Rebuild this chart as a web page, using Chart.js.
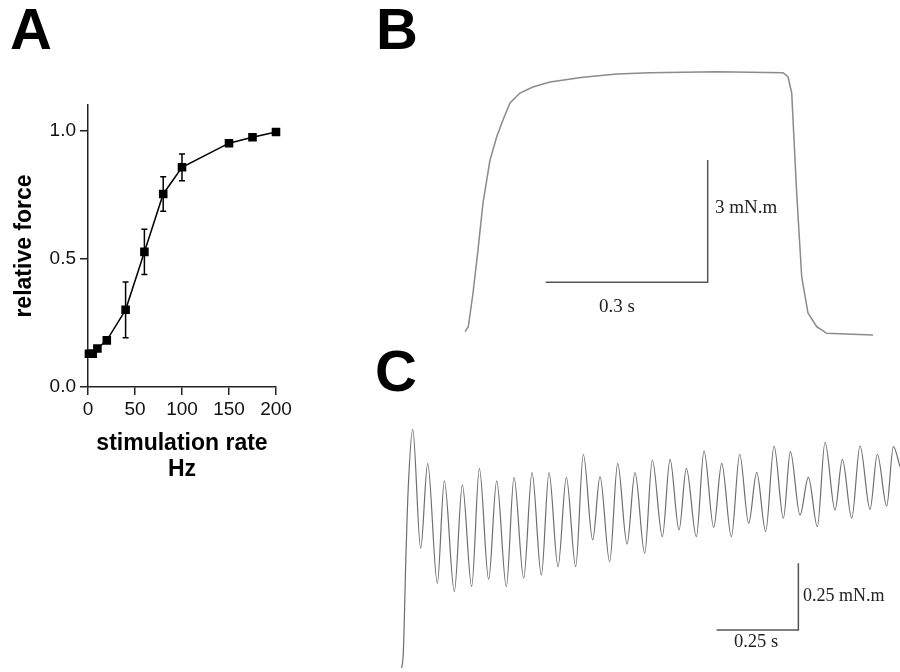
<!DOCTYPE html>
<html>
<head>
<meta charset="utf-8">
<script src="https://cdn.jsdelivr.net/npm/chart.js@4.4.1/dist/chart.umd.min.js"></script>
<style>
  body { margin: 0; background: #fff; }
  #page { position: relative; width: 900px; height: 672px; overflow: hidden; }
  canvas { position: absolute; }
  .lbl { position: absolute; font-family: 'Liberation Sans', Arial, sans-serif; font-weight: bold; font-size: 58px; line-height: 58px; color: #000; }
  .bar { position: absolute; font-family: 'Liberation Serif', 'Times New Roman', serif; color: #222; white-space: nowrap; }
</style>
</head>
<body>
<div id="page">
  <canvas id="chartA" width="330" height="500" style="left:0;top:0"></canvas>
  <canvas id="chartB" width="420" height="285" style="left:460px;top:60px"></canvas>
  <canvas id="chartC" width="500" height="252" style="left:400px;top:420px"></canvas>

  <div class="lbl" style="left:10px;top:0px">A</div>
  <div class="lbl" style="left:376px;top:0px">B</div>
  <div class="lbl" style="left:375px;top:342px">C</div>

  <div class="bar" style="left:715px;top:197px;font-size:19px;line-height:19px">3 mN.m</div>
  <div class="bar" style="left:577px;top:296px;width:80px;text-align:center;font-size:19px;line-height:19px">0.3 s</div>
  <div class="bar" style="left:803px;top:586px;font-size:18px;line-height:18px">0.25 mN.m</div>
  <div class="bar" style="left:716px;top:632px;width:80px;text-align:center;font-size:18.5px;line-height:18.5px">0.25 s</div>
</div>

<script>
// panel A: force-frequency
const rateHz = [1, 5, 10, 20, 40, 60, 80, 100, 150, 175, 200];
const relForce = [0.13, 0.13, 0.15, 0.182, 0.301, 0.527, 0.753, 0.857, 0.951, 0.974, 0.995];
const forceErr = [0, 0, 0, 0, 0.109, 0.088, 0.067, 0.052, 0.012, 0, 0];
const yTicksA = [0, 0.5, 1.0];

// panel B: tetanic contraction (s, mN.m)
const bTime = [0.0093, 0.0154, 0.0241, 0.0333, 0.0426, 0.0556, 0.068, 0.0796, 0.0926, 0.111, 0.135, 0.1667,
  0.2278, 0.2907, 0.3519, 0.4759, 0.5981, 0.6074, 0.6143, 0.6235, 0.6328, 0.6444, 0.6606, 0.6791, 0.7648];
const bForce = [0.032, 0.154, 0.98, 2.03, 3.19, 4.24, 4.81, 5.22, 5.64, 5.88, 6.03, 6.15,
  6.27, 6.35, 6.38, 6.40, 6.38, 6.28, 5.88, 3.43, 1.38, 0.49, 0.154, -0.007, -0.049];
const bScaleTime = [0.1587, 0.4587, 0.4587];
const bScaleForce = [1.243, 1.243, 4.243];

// panel C: unfused contraction (s, mN.m)
const cTime = [0.0052, 0.0101, 0.0184, 0.0254, 0.0389, 0.0633, 0.0847, 0.1143, 0.1357, 0.1663, 0.1908, 0.2194,
  0.2429, 0.2714, 0.2959, 0.3255, 0.349, 0.3786, 0.4041, 0.4327, 0.4561, 0.4837, 0.5092, 0.5378, 0.5612,
  0.5898, 0.6122, 0.6418, 0.6663, 0.6949, 0.7194, 0.749, 0.7724, 0.8031, 0.8265, 0.8541, 0.8765, 0.9071,
  0.9306, 0.9602, 0.9847, 1.0143, 1.0398, 1.0673, 1.0918, 1.1194, 1.1449, 1.1735, 1.1949, 1.2245, 1.25,
  1.2776, 1.301, 1.3316, 1.3541, 1.3827, 1.4082, 1.4388, 1.4612, 1.4898, 1.5102, 1.5306];
const cForce = [-0.1425, -0.086, 0.289, 0.537, 0.752, 0.306, 0.625, 0.175, 0.559, 0.144, 0.544, 0.1625,
  0.606, 0.19, 0.559, 0.1625, 0.5725, 0.194, 0.59, 0.206, 0.59, 0.2375, 0.5725, 0.2375, 0.659,
  0.3375, 0.575, 0.256, 0.625, 0.3225, 0.59, 0.2875, 0.6375, 0.35, 0.64, 0.375, 0.606, 0.35,
  0.671, 0.385, 0.625, 0.35, 0.659, 0.4, 0.591, 0.369, 0.69, 0.419, 0.669, 0.431, 0.5725,
  0.3875, 0.704, 0.45, 0.64, 0.419, 0.69, 0.4525, 0.659, 0.465, 0.6875, 0.6125];
const cScaleTime = [0.9694, 1.2194, 1.2194];
const cScaleForce = [0, 0, 0.25];

const pairs = (xs, ys) => xs.map((v, i) => ({x: v, y: ys[i]}));

//error bars for panel A
const errorBars = {
    id: 'errorBars',
    afterDatasetsDraw(chart) {
        const {ctx, scales: {x, y}} = chart;
        ctx.save();
        ctx.strokeStyle = '#000';
        ctx.lineWidth = 1.5;
        rateHz.forEach((r, i) => {
            const e = forceErr[i];
            if (!e) return;
            const px = x.getPixelForValue(r);
            const top = y.getPixelForValue(relForce[i] + e);
            const bot = y.getPixelForValue(relForce[i] - e);
            ctx.beginPath();
            ctx.moveTo(px, top); ctx.lineTo(px, bot);
            ctx.moveTo(px - 3, top); ctx.lineTo(px + 3, top);
            ctx.moveTo(px - 3, bot); ctx.lineTo(px + 3, bot);
            ctx.stroke();
        });
        ctx.restore();
    }
};

const sans = 'Liberation Sans, Arial, sans-serif';

//grafico A
new Chart(document.getElementById('chartA'), {
    type: 'scatter',
    data: {
        datasets: [{
            data: pairs(rateHz, relForce),
            showLine: true,
            clip: false,
            borderColor: '#000',
            borderWidth: 1.5,
            backgroundColor: '#000',
            pointStyle: 'rect',
            pointRadius: 5,
            tension: 0
        }]
    },
    options: {
        responsive: false,
        animation: false,
        layout: { padding: { left: 0, top: 105, right: 54, bottom: 0 } },
        plugins: { legend: { display: false }, tooltip: { enabled: false } },
        scales: {
            x: {
                type: 'linear', min: 0, max: 200,
                grid: { display: true, drawOnChartArea: false, drawTicks: true, tickLength: 8, color: '#222', lineWidth: 1.5 },
                border: { display: true, color: '#222', width: 1.5 },
                ticks: { stepSize: 50, color: '#111', font: { family: sans, size: 19 }, padding: 3, maxRotation: 0 },
                title: {
                    display: true, text: ['stimulation rate', 'Hz'], color: '#000',
                    font: { family: sans, size: 23, weight: 'bold', lineHeight: 1.13 },
                    padding: { top: 0, bottom: 17 }
                },
                afterFit: (axis) => { axis.height = 113; }
            },
            y: {
                type: 'linear', min: 0, max: 1.1,
                afterBuildTicks: (axis) => { axis.ticks = yTicksA.map(v => ({value: v})); },
                grid: { display: true, drawOnChartArea: false, drawTicks: true, tickLength: 8, color: '#222', lineWidth: 1.5 },
                border: { display: true, color: '#222', width: 1.5 },
                ticks: { color: '#111', font: { family: sans, size: 19 }, padding: 4, callback: v => v.toFixed(1) },
                title: {
                    display: true, text: 'relative force', color: '#000',
                    font: { family: sans, size: 23, weight: 'bold', lineHeight: 1.2 },
                    padding: { top: 11, bottom: 0 }
                },
                afterFit: (axis) => { axis.width = 88; }
            }
        }
    },
    plugins: [errorBars]
});

//trace options shared by B and C
const traceOpts = (xmax, ymin, ymax) => ({
    responsive: false,
    animation: false,
    layout: { padding: 0 },
    plugins: { legend: { display: false }, tooltip: { enabled: false } },
    elements: { point: { radius: 0 } },
    scales: {
        x: { type: 'linear', display: false, min: 0, max: xmax },
        y: { type: 'linear', display: false, min: ymin, max: ymax }
    }
});

//grafico B
new Chart(document.getElementById('chartB'), {
    type: 'scatter',
    data: {
        datasets: [{
            data: pairs(bTime, bForce),
            showLine: true,
            borderColor: '#8a8a8a',
            borderWidth: 1.5,
            tension: 0
        }, {
            data: pairs(bScaleTime, bScaleForce),
            showLine: true,
            borderColor: '#555',
            borderWidth: 1.5,
            tension: 0
        }]
    },
    options: traceOpts(0.7778, -0.294, 6.691)
});

//grafico C
new Chart(document.getElementById('chartC'), {
    type: 'scatter',
    data: {
        datasets: [{
            data: pairs(cTime, cForce),
            showLine: true,
            borderColor: '#6e6e6e',
            borderWidth: 1.2,
            cubicInterpolationMode: 'monotone'
        }, {
            data: pairs(cScaleTime, cScaleForce),
            showLine: true,
            borderColor: '#555',
            borderWidth: 1.5,
            tension: 0
        }]
    },
    options: traceOpts(1.5305, -0.1575, 0.7875)
});
</script>
</body>
</html>
